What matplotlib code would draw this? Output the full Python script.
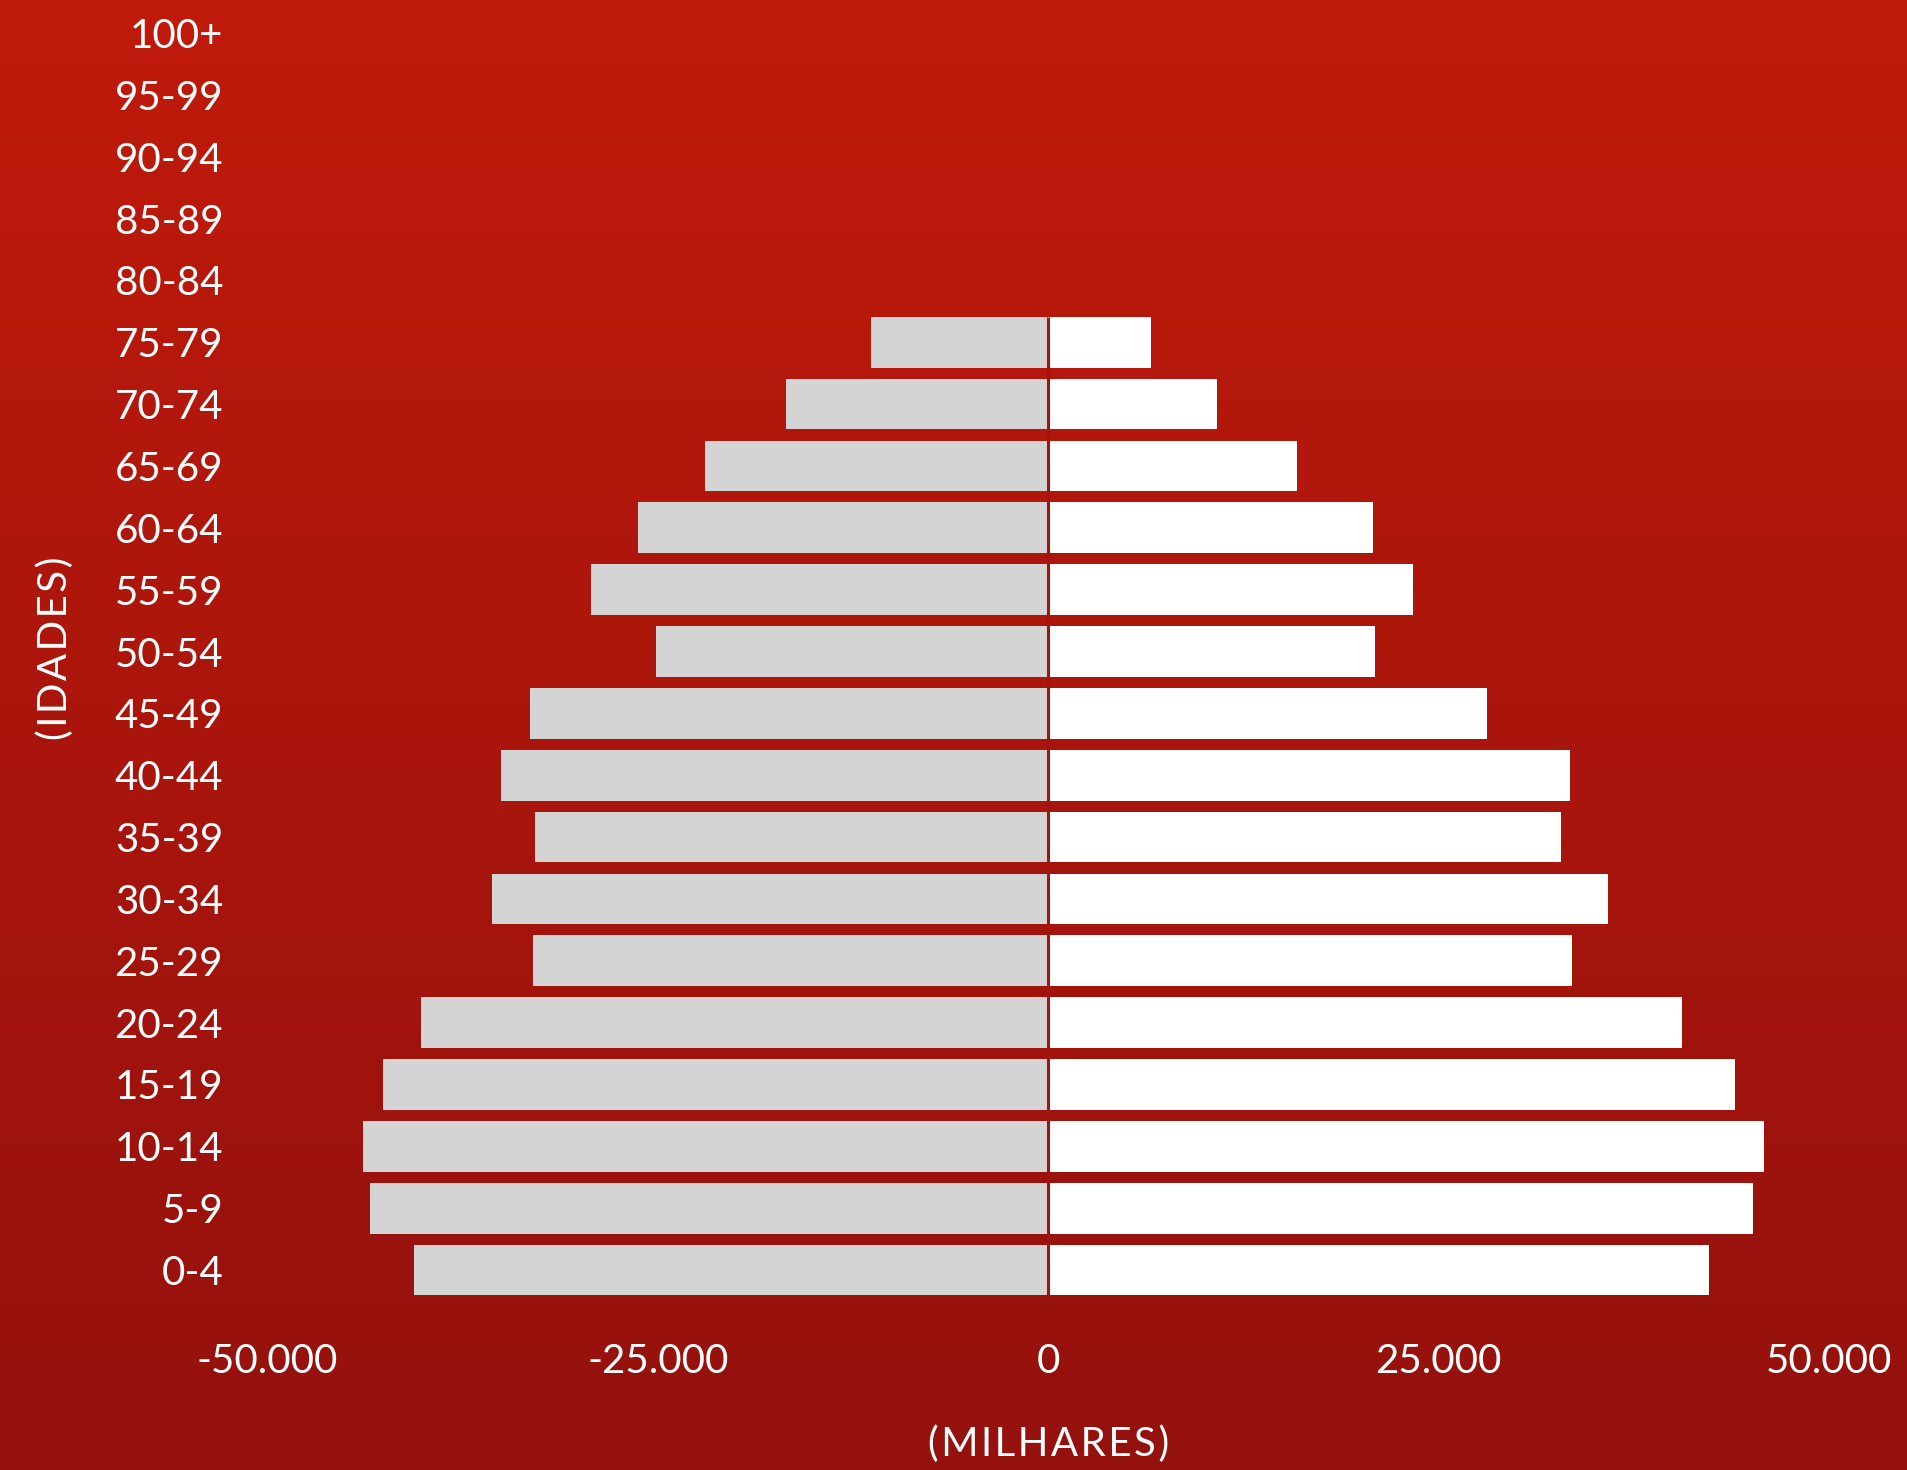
import numpy as np
import matplotlib.pyplot as plt
from matplotlib.colors import LinearSegmentedColormap
from matplotlib.ticker import FuncFormatter

plt.rcParams['font.family'] = ['Lato', 'DejaVu Sans']

ages = ["0-4", "5-9", "10-14", "15-19", "20-24", "25-29", "30-34", "35-39",
        "40-44", "45-49", "50-54", "55-59", "60-64", "65-69", "70-74", "75-79",
        "80-84", "85-89", "90-94", "95-99", "100+"]
homens = [-40600, -43450, -43900, -42600, -40200, -33000, -35600, -32850,
          -35050, -33200, -25150, -29300, -26300, -21950, -16800, -11350,
          0, 0, 0, 0, 0]
mulheres = [42300, 45150, 45850, 44000, 40600, 33550, 35850, 32850,
            33400, 28100, 20950, 23350, 20800, 15950, 10800, 6600,
            0, 0, 0, 0, 0]


def spaced(s):
    # letter-spaced text, like the original axis titles
    return "\u200a".join(s)


fig = plt.figure(figsize=(19.07, 14.7), dpi=100)

# background gradient
bg = fig.add_axes([0, 0, 1, 1], zorder=-10)
cmap = LinearSegmentedColormap.from_list("bg", ["#c01a0a", "#94110e"])
bg.imshow(np.linspace(0, 1, 256).reshape(-1, 1), aspect="auto", cmap=cmap,
          extent=[0, 1, 0, 1])
bg.axis("off")

ax = fig.add_axes([0.1403, 0.115, 0.8187, 0.8836])
ax.patch.set_alpha(0)
y = np.arange(len(ages))
h = 0.82
ax.barh(y, homens, height=h, color="#d4d4d4")
ax.barh(y, mulheres, height=h, color="white")

# thin gap at zero, only where bars are drawn
filled = [i for i in y if homens[i] != 0 or mulheres[i] != 0]
ax.vlines(0, min(filled) - h / 2, max(filled) + h / 2, color="#a3140f", lw=2.2)

ax.set_xlim(-50000, 50000)
ax.set_ylim(-0.5, len(ages) - 0.5)
ax.set_yticks(y)
ax.set_yticklabels(ages)
ax.set_xticks([-50000, -25000, 0, 25000, 50000])
ax.xaxis.set_major_formatter(FuncFormatter(lambda v, p: f"{int(v):,}".replace(",", ".")))
ax.tick_params(axis="both", length=0, colors="white", labelsize=29)
ax.tick_params(axis="y", pad=32)
ax.tick_params(axis="x", pad=30)
for s in ax.spines.values():
    s.set_visible(False)

ax.set_xlabel(spaced("(MILHARES)"), color="white", fontsize=29, labelpad=33)
fig.text(0.0288, 0.559, spaced("(IDADES)"), color="white", fontsize=29, rotation=90,
         ha="center", va="center")

fig.savefig("out.png", dpi=100)
